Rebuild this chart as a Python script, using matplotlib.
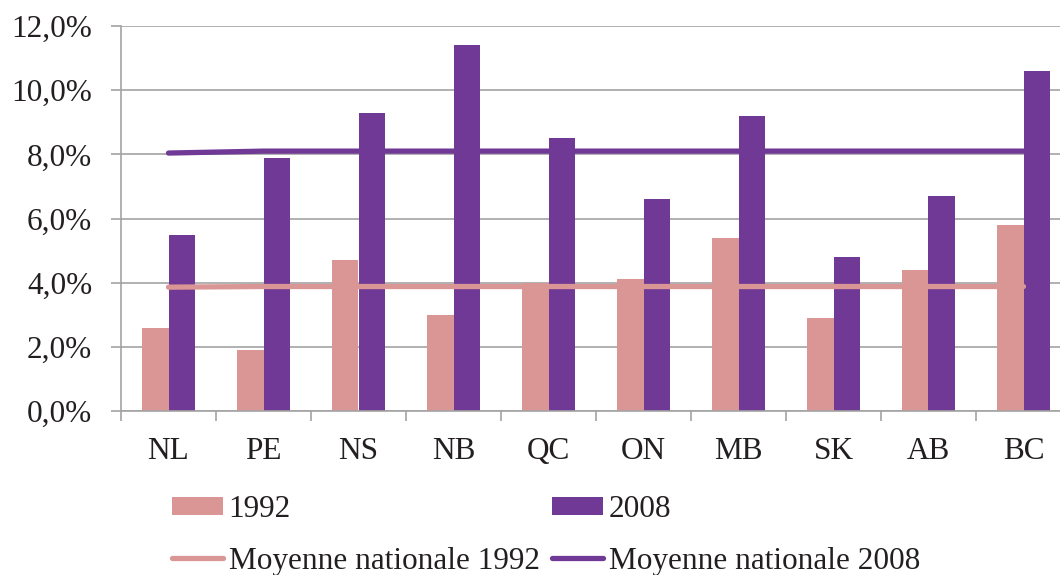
import matplotlib
matplotlib.use("Agg")
import matplotlib.pyplot as plt
import numpy as np
from matplotlib.ticker import FuncFormatter

provinces = ["NL", "PE", "NS", "NB", "QC", "ON", "MB", "SK", "AB", "BC"]
values_1992 = [2.6, 1.9, 4.7, 3.0, 4.0, 4.1, 5.4, 2.9, 4.4, 5.8]
values_2008 = [5.5, 7.9, 9.3, 11.4, 8.5, 6.6, 9.2, 4.8, 6.7, 10.6]
avg_1992 = [3.86, 3.88, 3.88, 3.88, 3.88, 3.88, 3.88, 3.88, 3.88, 3.88]
avg_2008 = [8.04, 8.1, 8.1, 8.1, 8.1, 8.1, 8.1, 8.1, 8.1, 8.1]
yticks = [0, 2, 4, 6, 8, 10, 12]

PINK = "#D99694"
PURPLE = "#703996"
GRID = "#A3A3A3"
TXT = "#231F20"

plt.rcParams["font.family"] = ["Liberation Serif", "DejaVu Serif"]

fig = plt.figure(figsize=(10.6, 5.75), dpi=100)
ax = fig.add_axes([121 / 1060, 1 - 411 / 575, 950 / 1060, 385 / 575])

x = np.arange(len(provinces))
bw = 0.284
b1 = ax.bar(x - bw / 2, values_1992, width=bw, color=PINK, zorder=2)
b2 = ax.bar(x + bw / 2, values_2008, width=bw, color=PURPLE, zorder=2)
l1, = ax.plot(x, avg_1992, color=PINK, lw=3.8, solid_capstyle="round", zorder=3)
l2, = ax.plot(x, avg_2008, color=PURPLE, lw=3.8, solid_capstyle="round", zorder=3)

ax.set_xlim(-0.5, len(provinces) - 0.5)
ax.set_ylim(0, 12)
ax.set_yticks(yticks)
ax.yaxis.set_major_formatter(FuncFormatter(lambda v, p: f"{v:.1f}%".replace(".", ",")))
ax.set_xticks(x)
ax.set_xticklabels(provinces)
ax.set_xticks(np.arange(len(provinces) + 1) - 0.5, minor=True)

ax.grid(axis="y", color=GRID, lw=1.2, zorder=0)
for s in ["top", "right"]:
    ax.spines[s].set_visible(False)
for s in ["left", "bottom"]:
    ax.spines[s].set_color(GRID)
    ax.spines[s].set_linewidth(1.2)

ax.tick_params(axis="y", length=7.2, width=1.2, color=GRID, pad=13.5,
               labelsize=22.5, labelcolor=TXT)
ax.tick_params(axis="x", which="major", length=0, pad=19, labelsize=22.5,
               labelcolor=TXT)
ax.tick_params(axis="x", which="minor", length=7.2, width=1.2, color=GRID)

leg = fig.legend([b1, l1, b2, l2],
                 ["1992", "Moyenne nationale 1992", "2008", "Moyenne nationale 2008"],
                 ncol=2, loc="upper left",
                 bbox_to_anchor=(172 / 1060, 1 - 495 / 575),
                 frameon=False, fontsize=22.5, handlelength=1.62,
                 handleheight=0.55, handletextpad=0.19, columnspacing=0.4,
                 labelspacing=0.72, borderpad=0, borderaxespad=0)
for t in leg.get_texts():
    t.set_color(TXT)

fig.savefig("out.png", dpi=100)
